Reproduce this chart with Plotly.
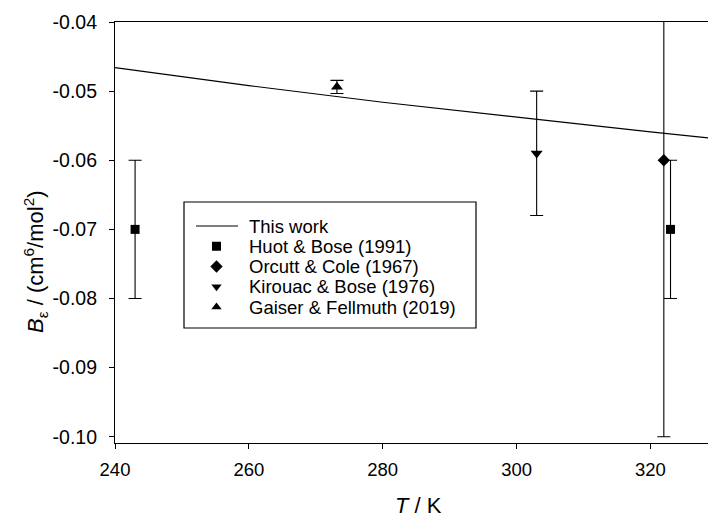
import plotly.graph_objects as go

# ---------------- data ----------------
line_T = [240, 260, 280, 300, 320, 330]
line_B = [-0.0466, -0.0492, -0.0516, -0.0538, -0.0559, -0.0569]

huot_T = [243.0, 323.0]
huot_B = [-0.070, -0.070]
huot_err = [0.010, 0.010]

orcutt_T = [322.0]
orcutt_B = [-0.060]
orcutt_err = [0.040]

kirouac_T = [303.0]
kirouac_B = [-0.059]
kirouac_err = [0.009]

gaiser_T = [273.16]
gaiser_B = [-0.0494]
gaiser_err = [0.00095]

x_ticks = [240, 260, 280, 300, 320]
x_tick_labels = ["240", "260", "280", "300", "320"]
y_ticks = [-0.10, -0.09, -0.08, -0.07, -0.06, -0.05, -0.04]
y_tick_labels = ["-0.10", "-0.09", "-0.08", "-0.07", "-0.06", "-0.05", "-0.04"]

legend_labels = ["This work", "Huot & Bose (1991)", "Orcutt & Cole (1967)",
                 "Kirouac & Bose (1976)", "Gaiser & Fellmuth (2019)"]
legend_symbols = [None, "square", "diamond", "triangle-down", "triangle-up"]

x_title = "<i>T</i> / K"
y_title = "<i>B</i><sub>ε</sub> / (cm<sup>6</sup>/mol<sup>2</sup>)"

# ---------------- layout constants ----------------
W, H = 708, 517
ML, MR, MT, MB = 115, 0, 22, 74
FONT = "Arial, Liberation Sans, Helvetica, sans-serif"
BLACK = "#000000"

fig = go.Figure()

fig.add_trace(go.Scatter(x=line_T, y=line_B, mode="lines",
                         line=dict(color=BLACK, width=1.1), showlegend=False,
                         name=legend_labels[0]))

def add_pts(T, B, err, sym, size, name):
    fig.add_trace(go.Scatter(
        x=T, y=B, mode="markers", name=name, showlegend=False,
        marker=dict(symbol=sym, size=size, color=BLACK),
        error_y=dict(type="data", array=err, visible=True,
                     color=BLACK, thickness=1.1, width=6.5)))

add_pts(huot_T, huot_B, huot_err, "square", 9, legend_labels[1])
add_pts(orcutt_T, orcutt_B, orcutt_err, "diamond", 9.5, legend_labels[2])
add_pts(kirouac_T, kirouac_B, kirouac_err, "triangle-down", 10.5, legend_labels[3])
add_pts(gaiser_T, gaiser_B, gaiser_err, "triangle-up", 10.5, legend_labels[4])

# ---------------- custom legend (pixel coordinates on overlay axes) ----------------
box_x0, box_x1, box_y0, box_y1 = 184, 476, 202, 328
row0, row_step = 226, 20.25
sym_x = 216.5
line_x0, line_x1 = 196, 238
text_x = 247

shapes = [dict(type="rect", xref="x2", yref="y2", x0=box_x0, x1=box_x1,
               y0=box_y0, y1=box_y1, line=dict(color=BLACK, width=1.2),
               fillcolor="white", layer="below")]
annotations = []
for i, (lab, sym) in enumerate(zip(legend_labels, legend_symbols)):
    yy = row0 + i * row_step
    if sym is None:
        shapes.append(dict(type="line", xref="x2", yref="y2", x0=line_x0, x1=line_x1,
                           y0=yy, y1=yy, line=dict(color=BLACK, width=1.1)))
    else:
        fig.add_trace(go.Scatter(x=[sym_x], y=[yy], mode="markers", xaxis="x2", yaxis="y2",
                                 showlegend=False, hoverinfo="skip",
                                 marker=dict(symbol=sym, size=9 if sym != "diamond" else 9.5,
                                             color=BLACK)))
    annotations.append(dict(x=text_x, y=yy, xref="x2", yref="y2", text=lab,
                            showarrow=False, xanchor="left", yanchor="middle",
                            font=dict(family=FONT, size=18.5, color=BLACK)))

# axis titles as annotations (paper coords)
pw, ph = W - ML - MR, H - MT - MB
annotations.append(dict(x=(418 - ML) / pw, y=(H - MB - 505) / ph, xref="paper", yref="paper",
                        text=x_title, showarrow=False, xanchor="center", yanchor="middle",
                        font=dict(family=FONT, size=22, color=BLACK)))
annotations.append(dict(x=(35 - ML) / pw, y=(H - MB - 262) / ph, xref="paper", yref="paper",
                        text=y_title, showarrow=False, xanchor="center", yanchor="middle",
                        textangle=-90, font=dict(family=FONT, size=22, color=BLACK)))

fig.update_layout(
    width=W, height=H, autosize=False,
    margin=dict(l=ML, r=MR, t=MT, b=MB, pad=0),
    paper_bgcolor="white", plot_bgcolor="white",
    font=dict(family=FONT, size=18, color=BLACK),
    showlegend=False,
    shapes=shapes, annotations=annotations,
    xaxis=dict(range=[240, 328.6], tickvals=x_ticks, ticktext=x_tick_labels,
               showgrid=False, zeroline=False, showline=True, linecolor=BLACK, linewidth=1.2,
               mirror=True, ticks="outside", ticklen=5, tickwidth=1.2, tickcolor=BLACK,
               tickfont=dict(family=FONT, size=18.5, color=BLACK), ticklabelstandoff=5),
    yaxis=dict(range=[-0.1009, -0.04], tickvals=y_ticks, ticktext=y_tick_labels,
               showgrid=False, zeroline=False, showline=True, linecolor=BLACK, linewidth=1.2,
               mirror=False, ticks="outside", ticklen=5, tickwidth=1.2, tickcolor=BLACK,
               tickfont=dict(family=FONT, size=19.5, color=BLACK), ticklabelstandoff=8),
    xaxis2=dict(overlaying="x", anchor="y2", range=[ML, W - MR], visible=False,
                fixedrange=True),
    yaxis2=dict(overlaying="y", anchor="x2", range=[H - MB, MT], visible=False,
                fixedrange=True),
)

fig.write_html("out.html")
